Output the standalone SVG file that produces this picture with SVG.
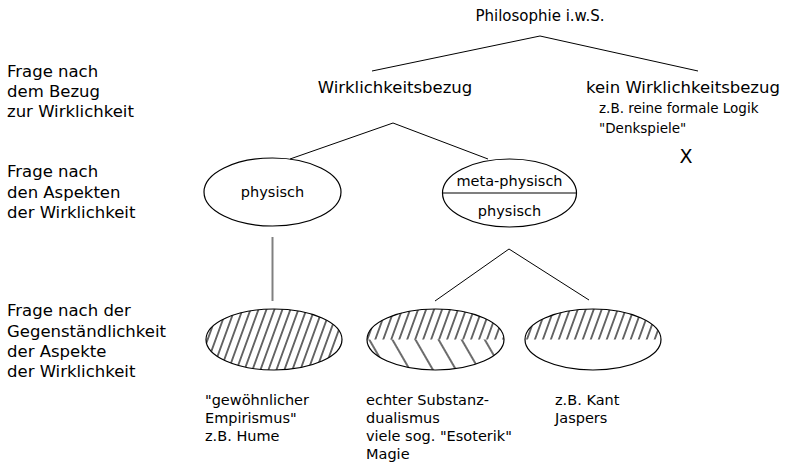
<svg xmlns="http://www.w3.org/2000/svg" width="795" height="465" viewBox="0 0 795 465">
<style>
text { font-family: "DejaVu Sans", Verdana, sans-serif; fill: #000; }
.lbl { font-size: 16.5px; }
.big { font-size: 16.5px; }
.mid { font-size: 14.5px; }
.sm { font-size: 13.5px; }
.bt { font-size: 14.5px; }
.edge { stroke: #000; stroke-width: 1; fill: none; }
.node { stroke: #000; stroke-width: 1.2; fill: none; }
</style>
<defs>
<pattern id="hatchR" patternUnits="userSpaceOnUse" width="7.5" height="20" patternTransform="rotate(20)">
<line x1="3.75" y1="0" x2="3.75" y2="20" stroke="#000" stroke-width="1.15"/>
</pattern>
<pattern id="hatchL" patternUnits="userSpaceOnUse" width="20" height="20" patternTransform="rotate(-30)">
<line x1="10" y1="0" x2="10" y2="20" stroke="#000" stroke-width="1.15"/>
</pattern>
</defs>
<rect width="795" height="465" fill="#fff"/>

<g id="labels">
<text class="lbl" x="7" y="77">Frage nach</text>
<text class="lbl" x="7" y="97">dem Bezug</text>
<text class="lbl" x="7" y="117">zur Wirklichkeit</text>
<text class="lbl" x="7" y="177">Frage nach</text>
<text class="lbl" x="7" y="197.5">den Aspekten</text>
<text class="lbl" x="7" y="218">der Wirklichkeit</text>
<text class="lbl" x="7" y="316">Frage nach der</text>
<text class="lbl" x="7" y="336.5">Gegenständlichkeit</text>
<text class="lbl" x="7" y="357">der Aspekte</text>
<text class="lbl" x="7" y="377">der Wirklichkeit</text>
</g>

<g id="connectors">
<line class="edge" x1="540" y1="36" x2="372" y2="71"/>
<line class="edge" x1="540" y1="36" x2="698" y2="71"/>
<line class="edge" x1="393" y1="123" x2="290" y2="159"/>
<line class="edge" x1="393" y1="123" x2="488" y2="159"/>
<line x1="272.5" y1="237" x2="272.5" y2="301" stroke="#808080" stroke-width="2"/>
<line class="edge" x1="509" y1="249" x2="435" y2="301"/>
<line class="edge" x1="509" y1="249" x2="589" y2="300"/>
</g>

<g id="n-philosophie">
<text class="big" x="540" y="21" text-anchor="middle" style="font-size:15px">Philosophie i.w.S.</text>
</g>

<g id="n-wirklichkeitsbezug">
<text class="big" x="395" y="93" text-anchor="middle">Wirklichkeitsbezug</text>
</g>

<g id="n-kein">
<text class="big" x="586" y="93">kein Wirklichkeitsbezug</text>
<text class="sm" x="599" y="113">z.B. reine formale Logik</text>
<text class="sm" x="599" y="133">"Denkspiele"</text>
<text x="686" y="163" text-anchor="middle" style="font-size:19px">X</text>
</g>

<g id="n-physisch">
<ellipse class="node" cx="272.5" cy="192" rx="68.5" ry="34"/>
<text class="mid" x="272.5" y="197" text-anchor="middle">physisch</text>
</g>

<g id="n-meta">
<ellipse class="node" cx="509.5" cy="193" rx="67" ry="34"/>
<line class="node" x1="442.5" y1="193" x2="576.5" y2="193"/>
<text class="mid" x="509.5" y="186" text-anchor="middle">meta-physisch</text>
<text class="mid" x="509.5" y="216" text-anchor="middle">physisch</text>
</g>

<g id="n-empirismus">
<ellipse cx="274" cy="339.5" rx="68" ry="30.5" fill="url(#hatchR)" stroke="#000" stroke-width="1.2"/>
<text class="bt" x="205" y="405">"gewöhnlicher</text>
<text class="bt" x="205" y="423">Empirismus"</text>
<text class="bt" x="205" y="441">z.B. Hume</text>
</g>

<g id="n-dualismus">
<path d="M367,339.5 A68.5,30.5 0 0 1 504,339.5 Z" fill="url(#hatchR)"/>
<path d="M367,339.5 A68.5,30.5 0 0 0 504,339.5 Z" fill="url(#hatchL)"/>
<ellipse class="node" cx="435.5" cy="339.5" rx="68.5" ry="30.5"/>
<text class="bt" x="366" y="405">echter Substanz-</text>
<text class="bt" x="366" y="423">dualismus</text>
<text class="bt" x="366" y="441">viele sog. "Esoterik"</text>
<text class="bt" x="366" y="459">Magie</text>
</g>

<g id="n-kant">
<path d="M525,339.5 A68,30.5 0 0 1 661,339.5 Z" fill="url(#hatchR)"/>
<ellipse class="node" cx="593" cy="339.5" rx="68" ry="30.5"/>
<text class="bt" x="555" y="405">z.B. Kant</text>
<text class="bt" x="555" y="423">Jaspers</text>
</g>
</svg>
